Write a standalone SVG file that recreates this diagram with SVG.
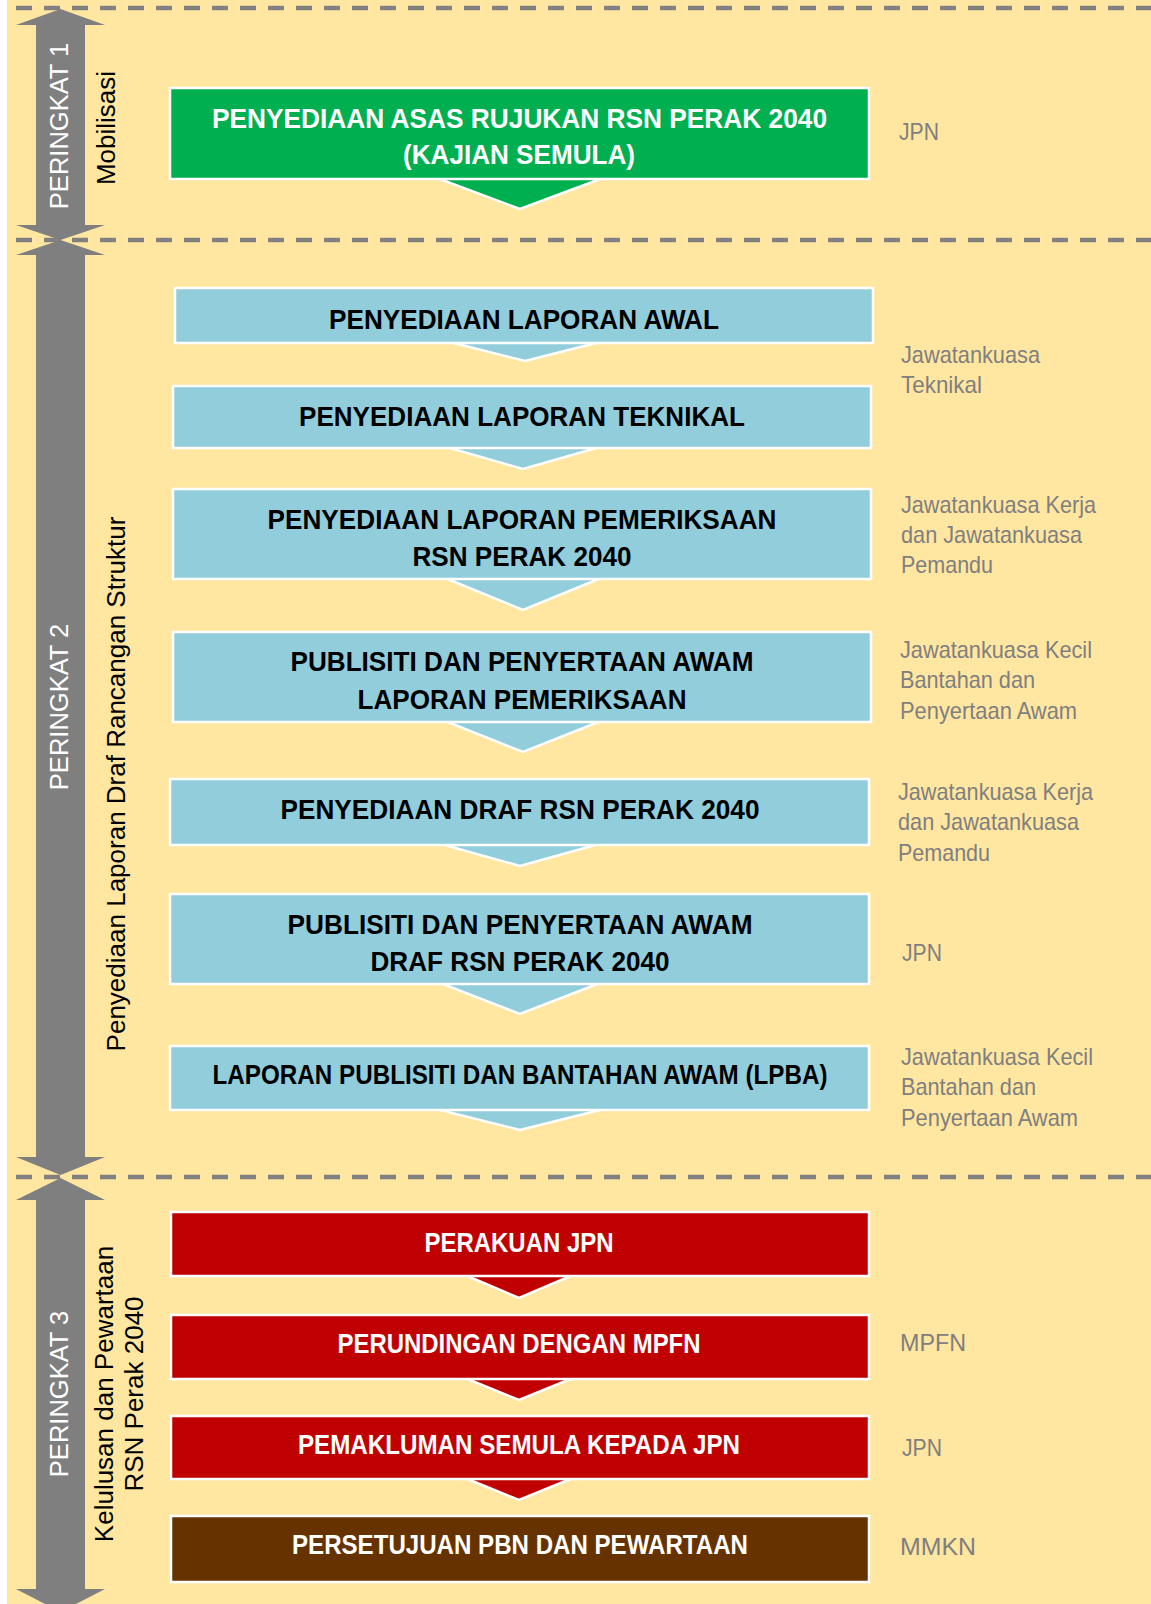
<svg xmlns="http://www.w3.org/2000/svg" width="1151" height="1604" viewBox="0 0 1151 1604">
<style>
.bg{fill:#FFE6A1}
.dash{stroke:#808080;stroke-width:4.5;stroke-dasharray:16 12;fill:none}
.garrow{fill:#7F7F7F}
.pk{font-family:"Liberation Sans",Arial,sans-serif;font-size:25.5px;fill:#FFFFFF;text-anchor:middle}
.side{font-family:"Liberation Sans",Arial,sans-serif;font-size:26px;fill:#000000;text-anchor:middle}
.box{stroke:#FFFFFF;stroke-width:2.5}
.tri{stroke:#FFFFFF;stroke-width:2.5;stroke-linejoin:miter}
.green{fill:#00B050}
.blue{fill:#92CDDC}
.red{fill:#C00000}
.brown{fill:#663300}
.bt{font-family:"Liberation Sans Narrow","Liberation Sans",Arial,sans-serif;font-weight:bold;font-size:28.5px;text-anchor:middle}
.w{fill:#FFFFFF}
.k{fill:#000000}
.lab{font-family:"Liberation Sans Narrow","Liberation Sans",Arial,sans-serif;font-size:24px;fill:#7F7F7F}
</style>
<rect class="bg" x="7" y="0" width="1144" height="1604"/>
<g id="separators">
<line class="dash" x1="16" y1="8" x2="1151" y2="8"/>
<line class="dash" x1="16" y1="240" x2="1151" y2="240"/>
<line class="dash" x1="16" y1="1177" x2="1151" y2="1177"/>
</g>
<g id="stage1">
<polygon class="garrow" points="60.5,9 105,25 85,25 85,225 105,225 60.5,240 16,225 36,225 36,25 16,25"/>
<text class="pk" transform="translate(68,126) rotate(-90)">PERINGKAT 1</text>
<text class="side" transform="translate(115,128) rotate(-90)">Mobilisasi</text>
</g>
<g id="stage2">
<polygon class="garrow" points="60.5,240 105,255 85,255 85,1157 105,1157 60.5,1175 16,1157 36,1157 36,255 16,255"/>
<text class="pk" transform="translate(68,707) rotate(-90)">PERINGKAT 2</text>
<text class="side" transform="translate(125,784) rotate(-90)">Penyediaan Laporan Draf Rancangan Struktur</text>
</g>
<g id="stage3">
<polygon class="garrow" points="60.5,1178 105,1200 85,1200 85,1589 105,1589 60.5,1612 16,1589 36,1589 36,1200 16,1200"/>
<text class="pk" transform="translate(68,1394) rotate(-90)">PERINGKAT 3</text>
<text class="side" transform="translate(113,1394) rotate(-90)">Kelulusan dan Pewartaan</text>
<text class="side" transform="translate(143,1394) rotate(-90)">RSN Perak 2040</text>
</g>
<g id="connectors">
<polygon class="tri green" points="437,178 603,178 520,209"/>
<polygon class="tri blue" points="450,342 600,342 525,361"/>
<polygon class="tri blue" points="446,447 600,447 523,469"/>
<polygon class="tri blue" points="445,578 601,578 523,610"/>
<polygon class="tri blue" points="445,721 601,721 523,752"/>
<polygon class="tri blue" points="441,844 599,844 520,866"/>
<polygon class="tri blue" points="440,983 600,983 520,1014"/>
<polygon class="tri blue" points="436,1109 604,1109 520,1130"/>
<polygon class="tri red" points="465,1275 573,1275 519,1298"/>
<polygon class="tri red" points="465,1378 573,1378 519,1400"/>
<polygon class="tri red" points="465,1478 573,1478 519,1500"/>
</g>
<g id="n1">
<rect class="box green" x="170" y="88" width="699" height="91"/>
<text class="bt w" x="519.5" y="128" textLength="615" lengthAdjust="spacingAndGlyphs">PENYEDIAAN ASAS RUJUKAN RSN PERAK 2040</text>
<text class="bt w" x="519" y="164" textLength="232" lengthAdjust="spacingAndGlyphs">(KAJIAN SEMULA)</text>
<text class="lab" x="899" y="140" textLength="40" lengthAdjust="spacingAndGlyphs">JPN</text>
</g>
<g id="n2">
<rect class="box blue" x="175" y="288" width="698" height="55"/>
<text class="bt k" x="524" y="329" textLength="390" lengthAdjust="spacingAndGlyphs">PENYEDIAAN LAPORAN AWAL</text>
</g>
<g id="n3">
<rect class="box blue" x="173" y="386" width="698" height="62"/>
<text class="bt k" x="522" y="426" textLength="446" lengthAdjust="spacingAndGlyphs">PENYEDIAAN LAPORAN TEKNIKAL</text>
<text class="lab" x="901" y="363" textLength="139" lengthAdjust="spacingAndGlyphs">Jawatankuasa</text>
<text class="lab" x="901" y="393" textLength="81" lengthAdjust="spacingAndGlyphs">Teknikal</text>
</g>
<g id="n4">
<rect class="box blue" x="173" y="489" width="698" height="90"/>
<text class="bt k" x="522" y="529" textLength="509" lengthAdjust="spacingAndGlyphs">PENYEDIAAN LAPORAN PEMERIKSAAN</text>
<text class="bt k" x="522" y="566" textLength="219" lengthAdjust="spacingAndGlyphs">RSN PERAK 2040</text>
<text class="lab" x="901" y="513" textLength="195" lengthAdjust="spacingAndGlyphs">Jawatankuasa Kerja</text>
<text class="lab" x="901" y="543" textLength="181" lengthAdjust="spacingAndGlyphs">dan Jawatankuasa</text>
<text class="lab" x="901" y="573" textLength="92" lengthAdjust="spacingAndGlyphs">Pemandu</text>
</g>
<g id="n5">
<rect class="box blue" x="173" y="632" width="698" height="90"/>
<text class="bt k" x="522" y="671" textLength="463" lengthAdjust="spacingAndGlyphs">PUBLISITI DAN PENYERTAAN AWAM</text>
<text class="bt k" x="522" y="709" textLength="329" lengthAdjust="spacingAndGlyphs">LAPORAN PEMERIKSAAN</text>
<text class="lab" x="900" y="658" textLength="192" lengthAdjust="spacingAndGlyphs">Jawatankuasa Kecil</text>
<text class="lab" x="900" y="688" textLength="135" lengthAdjust="spacingAndGlyphs">Bantahan dan</text>
<text class="lab" x="900" y="719" textLength="177" lengthAdjust="spacingAndGlyphs">Penyertaan Awam</text>
</g>
<g id="n6">
<rect class="box blue" x="170" y="779" width="699" height="66"/>
<text class="bt k" x="520" y="819" textLength="479" lengthAdjust="spacingAndGlyphs">PENYEDIAAN DRAF RSN PERAK 2040</text>
<text class="lab" x="898" y="800" textLength="195" lengthAdjust="spacingAndGlyphs">Jawatankuasa Kerja</text>
<text class="lab" x="898" y="830" textLength="181" lengthAdjust="spacingAndGlyphs">dan Jawatankuasa</text>
<text class="lab" x="898" y="861" textLength="92" lengthAdjust="spacingAndGlyphs">Pemandu</text>
</g>
<g id="n7">
<rect class="box blue" x="170" y="894" width="699" height="90"/>
<text class="bt k" x="520" y="934" textLength="465" lengthAdjust="spacingAndGlyphs">PUBLISITI DAN PENYERTAAN AWAM</text>
<text class="bt k" x="520" y="971" textLength="299" lengthAdjust="spacingAndGlyphs">DRAF RSN PERAK 2040</text>
<text class="lab" x="902" y="961" textLength="40" lengthAdjust="spacingAndGlyphs">JPN</text>
</g>
<g id="n8">
<rect class="box blue" x="170" y="1046" width="699" height="64"/>
<text class="bt k" x="520" y="1084" textLength="615" lengthAdjust="spacingAndGlyphs">LAPORAN PUBLISITI DAN BANTAHAN AWAM (LPBA)</text>
<text class="lab" x="901" y="1065" textLength="192" lengthAdjust="spacingAndGlyphs">Jawatankuasa Kecil</text>
<text class="lab" x="901" y="1095" textLength="135" lengthAdjust="spacingAndGlyphs">Bantahan dan</text>
<text class="lab" x="901" y="1126" textLength="177" lengthAdjust="spacingAndGlyphs">Penyertaan Awam</text>
</g>
<g id="n9">
<rect class="box red" x="171" y="1212" width="698" height="64"/>
<text class="bt w" x="519" y="1252" textLength="189" lengthAdjust="spacingAndGlyphs">PERAKUAN JPN</text>
</g>
<g id="n10">
<rect class="box red" x="171" y="1315" width="698" height="64"/>
<text class="bt w" x="519" y="1353" textLength="363" lengthAdjust="spacingAndGlyphs">PERUNDINGAN DENGAN MPFN</text>
<text class="lab" x="900" y="1351" textLength="66" lengthAdjust="spacingAndGlyphs">MPFN</text>
</g>
<g id="n11">
<rect class="box red" x="171" y="1416" width="698" height="63"/>
<text class="bt w" x="519" y="1454" textLength="442" lengthAdjust="spacingAndGlyphs">PEMAKLUMAN SEMULA KEPADA JPN</text>
<text class="lab" x="902" y="1456" textLength="40" lengthAdjust="spacingAndGlyphs">JPN</text>
</g>
<g id="n12">
<rect class="box brown" x="171" y="1516" width="698" height="66"/>
<text class="bt w" x="520" y="1554" textLength="456" lengthAdjust="spacingAndGlyphs">PERSETUJUAN PBN DAN PEWARTAAN</text>
<text class="lab" x="900" y="1555" textLength="76" lengthAdjust="spacingAndGlyphs">MMKN</text>
</g>
</svg>
